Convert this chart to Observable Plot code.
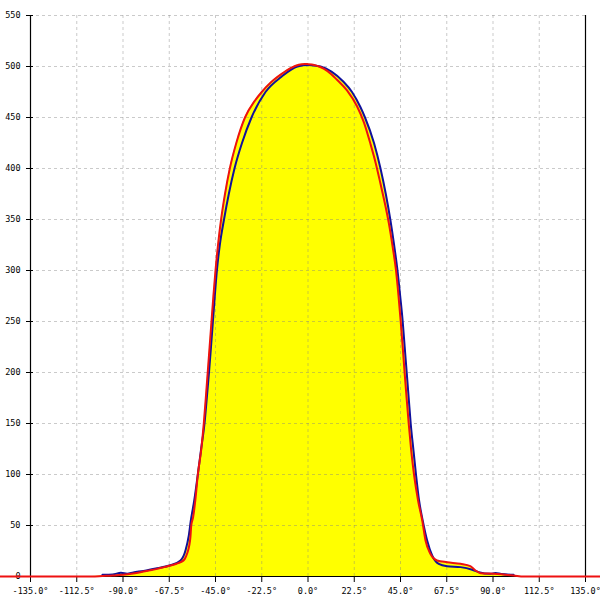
<!DOCTYPE html>
<html>
<head>
<meta charset="utf-8">
<script src="https://cdn.jsdelivr.net/npm/d3@7"></script>
<script src="https://cdn.jsdelivr.net/npm/@observablehq/plot@0.6"></script>
<style>
  html, body { margin: 0; padding: 0; background: #fff; overflow: hidden; }
  #chart svg { overflow: hidden; }
</style>
</head>
<body>
<div id="chart"></div>
<script>
// Angle ticks (degrees) and value ticks
const xTicks = [-135, -112.5, -90, -67.5, -45, -22.5, 0, 22.5, 45, 67.5, 90, 112.5, 135];
const yTicks = [0, 50, 100, 150, 200, 250, 300, 350, 400, 450, 500, 550];

// Red series: angle (deg), value
const redAngle = [-180, -105, -100, -95, -90, -85, -81.5, -77, -73.4, -70, -66.9, -64, -62, -60, -58.8, -57.8, -57.2, -56.8, -55.9, -54.8, -53.6, -52.0,
  -50.7, -49.72, -48.79, -47.87, -46.95, -46.02, -45.0, -43.78, -42.28, -40.38, -38.04, -34.88, -30.65, -26, -22.5, -18, -13, -8.5, -4.5, -1.5, 0,
  3, 6, 9.5, 14.11, 18.97, 23.84, 27.24, 30.41, 32.98, 35.27, 37.8, 39.36, 41.2, 42.81, 44.03, 45.1, 46.07, 46.99, 47.97, 48.99, 50.2, 51.57, 53.5, 55.56,
  57.2, 59.6, 62.8, 67.7, 74.2, 79, 81.5, 83.9, 90.4, 100, 105, 180];
const redValue = [0, 0, 0.5, 1, 1.7, 3, 4.2, 6, 7.5, 9.2, 10.8, 12.5, 14, 17, 22.5, 30, 38.5, 50, 58, 75, 100, 123.5,
  150, 175, 200, 225, 250, 275, 300, 325, 350, 375, 400, 425, 450, 466, 475, 484.5, 492.5, 498.5, 501.8, 502.5, 502.3,
  501.5, 499.5, 495.5, 487, 476.5, 461, 445, 424, 405, 385, 362, 346, 323, 300, 275, 250, 225, 200, 175, 150, 123.5, 100, 75, 55,
  35, 22, 15.7, 14, 12.4, 10.1, 5.9, 3.3, 2.6, 1, 0, 0];

// Blue series: angle (deg), value
const blueAngle = [-100, -95, -91, -88, -85, -80, -73.4, -67, -62, -59.6, -58, -57, -55.3, -53.6, -52.1,
  -50.35, -49.23, -48.16, -47.19, -46.26, -45.34, -44.32, -42.91, -40.86, -38.53, -35.76, -32.11, -27.49, -20.68, -12.89, -5.11, 0.2,
  6.08, 11.43, 17.27, 21.41, 25.54, 27.73, 32.11, 35.27, 37.85, 40.04, 41.89, 43.54, 44.85, 46.07, 47.04, 48.02, 48.99, 49.96, 51.32, 52.54, 54.0, 55.8,
  58, 60.4, 63.6, 67.7, 74.2, 79.9, 83.1, 88.8, 91.2, 94, 100];
const blueValue = [1.7, 2, 3.6, 2.8, 4, 5.5, 8.1, 11, 15.7, 25.5, 40, 55, 75, 100, 123.5,
  150, 175, 200, 225, 250, 275, 300, 325, 350, 375, 400, 425, 450, 475, 490, 500, 501.5,
  500, 495, 485, 475, 460, 450, 425, 400, 375, 350, 325, 300, 275, 250, 225, 200, 175, 150, 123.5, 100, 75, 55,
  35, 20.6, 12.4, 10.1, 9.2, 6.6, 4.2, 2.6, 3.5, 2.5, 1.7];

const red = redAngle.map((a, i) => ({angle: a, value: redValue[i]}));
const blue = blueAngle.map((a, i) => ({angle: a, value: blueValue[i]}));

const fmtX = d => d.toFixed(1) + "\u00b0";
const curve = "monotone-x";

const chart = Plot.plot({
  width: 600,
  height: 600,
  marginLeft: 30,
  marginRight: 15,
  marginTop: 15,
  marginBottom: 24,
  style: {fontFamily: "'DejaVu Sans Mono', monospace", fontSize: "8.5px", color: "#000", background: "#fff"},
  x: {domain: [-135, 135]},
  y: {domain: [0, 550]},
  marks: [
    Plot.areaY(red, {x: "angle", y: "value", fill: "#ffff00", curve}),
    Plot.areaY(blue, {x: "angle", y: "value", fill: "#ffff00", curve}),
    Plot.gridX(xTicks.filter(d => Math.abs(d) < 135), {stroke: "#808080", strokeOpacity: 0.42, strokeDasharray: "3,3"}),
    Plot.gridY(yTicks.filter(d => d > 0), {stroke: "#808080", strokeOpacity: 0.42, strokeDasharray: "3,3"}),
    Plot.ruleX([-135, 135], {stroke: "#000", strokeWidth: 1.2}),
    Plot.ruleY([0], {stroke: "#000"}),
    Plot.axisX(xTicks, {tickSize: 6, tickPadding: 5, tickFormat: fmtX, label: null, stroke: "#000", fill: "#000"}),
    Plot.axisY(yTicks, {tickSize: 7, dx: 3, tickPadding: 6, tickFormat: d => String(d), label: null, stroke: "#000", fill: "#000"}),
    Plot.line(blue, {x: "angle", y: "value", stroke: "#10109c", strokeWidth: 2, curve}),
    Plot.line(red, {x: "angle", y: "value", stroke: "#ee1111", strokeWidth: 2, curve})
  ]
});
document.getElementById("chart").appendChild(chart);
</script>
</body>
</html>
